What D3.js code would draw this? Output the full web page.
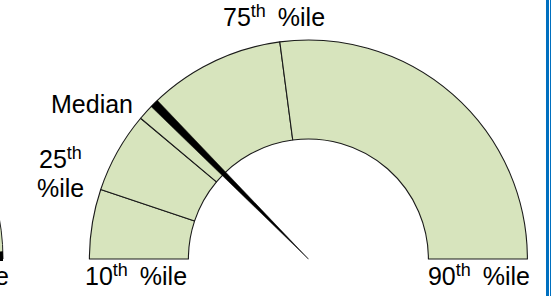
<!DOCTYPE html>
<html>
<head>
<meta charset="utf-8">
<script src="https://cdn.jsdelivr.net/npm/d3@7"></script>
<style>
  html, body { margin: 0; padding: 0; background: #fff; }
  svg { display: block; }
  text { font-family: "Liberation Sans", Arial, sans-serif; fill: #000; }
</style>
</head>
<body>
<svg id="chart" width="552" height="296"></svg>
<script>
// ---- data (angular span of each band, in degrees of the half gauge) ----
const categories = ["10th–25th", "25th–Median", "Median–75th", "75th–90th"];
const bandSpans = [18.5, 21.5, 42.5, 97.5];
const gaugeMax = 180;
const needleValue = 44.1;   // start of needle (degrees from left)
const needleWidth = 2.3;    // needle angular width

// labels: [main, superscript, rest]
const labelTexts = [
  ["75", "th", "%ile"],
  ["Median", "", ""],
  ["25", "th", ""],
  ["%ile", "", ""],
  ["10", "th", "%ile"],
  ["90", "th", "%ile"]
];

const svg = d3.select("#chart");
const W = 552, H = 296;
const cx = 308.4, cy = 259;
const rOuter = 219, rInner = 120;
const green = "#D7E4BD";

// angle scale: value -> radians (d3 convention, 0 = 12 o'clock)
const angle = d3.scaleLinear().domain([0, gaugeMax]).range([-Math.PI / 2, Math.PI / 2]);

// left cut-off neighbour gauge (partial)
const gLeft = svg.append("g").attr("transform", `translate(${-216},${cy})`);
gLeft.append("path")
  .attr("d", d3.arc()({ innerRadius: 120, outerRadius: 219, startAngle: angle(150), endAngle: angle(180) }))
  .attr("fill", green).attr("stroke", "#222").attr("stroke-width", 1);
gLeft.append("path")
  .attr("d", d3.arc()({ innerRadius: 0, outerRadius: 219, startAngle: angle(178), endAngle: angle(180.5) }))
  .attr("fill", "#000");

const g = svg.append("g").attr("transform", `translate(${cx},${cy})`);

const pie = d3.pie().sort(null).value(d => d)
  .startAngle(angle(0)).endAngle(angle(gaugeMax));
const arc = d3.arc().innerRadius(rInner).outerRadius(rOuter);

g.selectAll("path.band")
  .data(pie(bandSpans))
  .join("path")
  .attr("class", "band")
  .attr("d", arc)
  .attr("fill", green)
  .attr("stroke", "#1a1a1a")
  .attr("stroke-width", 1.1)
  .attr("stroke-linejoin", "round");

// needle (thin pie slice from the centre)
g.append("path")
  .attr("d", d3.arc()({
    innerRadius: 0, outerRadius: rOuter,
    startAngle: angle(needleValue), endAngle: angle(needleValue + needleWidth)
  }))
  .attr("fill", "#000")
  .attr("stroke", "#000")
  .attr("stroke-width", 0.5);

// labels
const labelPos = [
  { x: 223, y: 26, anchor: "start" },
  { x: 51, y: 113, anchor: "start" },
  { x: 39, y: 168, anchor: "start" },
  { x: 37, y: 197, anchor: "start" },
  { x: 85, y: 285, anchor: "start" },
  { x: 530, y: 285, anchor: "end" }
];

labelTexts.forEach((t, i) => {
  const p = labelPos[i];
  const txt = svg.append("text")
    .attr("x", p.x).attr("y", p.y)
    .attr("text-anchor", p.anchor)
    .attr("font-size", 25);
  txt.append("tspan").text(t[0]);
  if (t[1]) txt.append("tspan").attr("font-size", 18).attr("dy", -9).text(t[1]);
  if (t[2]) txt.append("tspan").attr("dy", t[1] ? 9 : 0).attr("dx", 12).text(t[2]);
});

// left cut-off label
svg.append("text").attr("x", 9).attr("y", 285).attr("text-anchor", "end")
  .attr("font-size", 25).text("%ile");

// right border (blue)
svg.append("rect").attr("x", 546).attr("y", 0).attr("width", 3).attr("height", H).attr("fill", "#0070C0");
svg.append("rect").attr("x", 550).attr("y", 0).attr("width", 1).attr("height", H).attr("fill", "#0070C0");
</script>
</body>
</html>
